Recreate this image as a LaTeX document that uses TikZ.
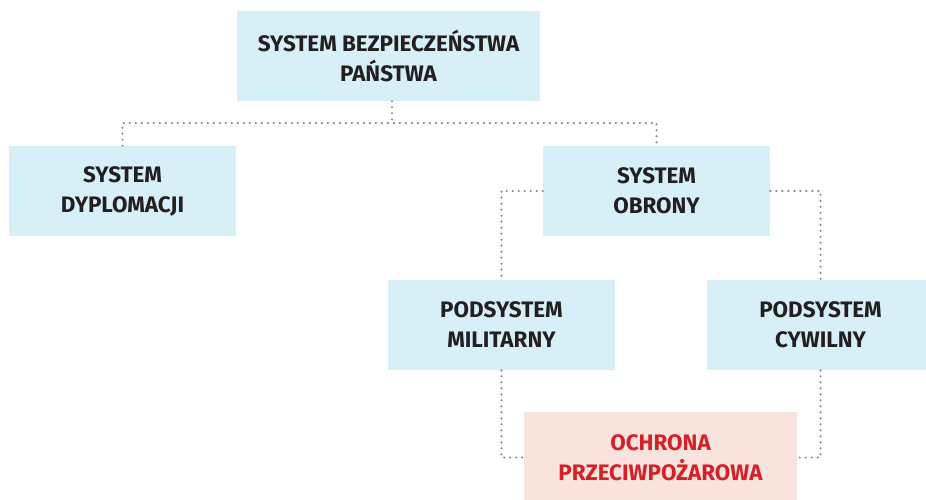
\documentclass[tikz,border=0pt]{standalone}
\usepackage{fontspec}
\setmainfont{Fira Sans}
\definecolor{boxblue}{HTML}{D7EFF7}
\definecolor{boxpink}{HTML}{F8E4DD}
\definecolor{txtred}{HTML}{D42029}
\definecolor{txtdark}{HTML}{231F20}
\definecolor{dotgray}{HTML}{858585}

\begin{document}
\begin{tikzpicture}
[every node/.style={inner sep=0pt, align=center, font=\fontsize{16.8}{22.5}\selectfont\bfseries},
 bluebox/.style={rectangle, fill=boxblue, text=txtdark, minimum width=170.25pt, minimum height=67.5pt},
 pinkbox/.style={rectangle, fill=boxpink, text=txtred, minimum width=204.75pt, minimum height=67.5pt},
 dots/.style={line width=1.8pt, line cap=round, dash pattern=on 0pt off 4.5pt, color=dotgray}]
\useasboundingbox (0pt, 0pt) rectangle (694.5pt, -375pt);
\node (panstwo) [bluebox, minimum width=227.25pt] at (291.4pt, -42.0pt) {SYSTEM BEZPIECZEŃSTWA\\PAŃSTWA};
\node (dyplomacja) [bluebox] at (91.9pt, -143.25pt) {SYSTEM\\DYPLOMACJI};
\node (obrona) [bluebox] at (492.4pt, -143.25pt) {SYSTEM\\OBRONY};
\node (militarny) [bluebox] at (376.1pt, -243.75pt) {PODSYSTEM\\MILITARNY};
\node (cywilny) [bluebox] at (615.4pt, -243.75pt) {PODSYSTEM\\CYWILNY};
\node (ochrona) [pinkbox] at (495.4pt, -343.1pt) {OCHRONA\\PRZECIWPOŻAROWA};
\coordinate (rozgalezienie) at (294.0pt, -92.25pt);
\draw [dots] (panstwo.south -| rozgalezienie) -- (rozgalezienie);
\draw [dots] (dyplomacja.north) |- (rozgalezienie) -| (obrona.north);
\draw [dots] (obrona.west) -| (militarny.north);
\draw [dots] (obrona.east) -| (cywilny.north);
\draw [dots] (militarny.south) |- (ochrona.west);
\draw [dots] (cywilny.south) |- (ochrona.east);
\end{tikzpicture}
\end{document}
